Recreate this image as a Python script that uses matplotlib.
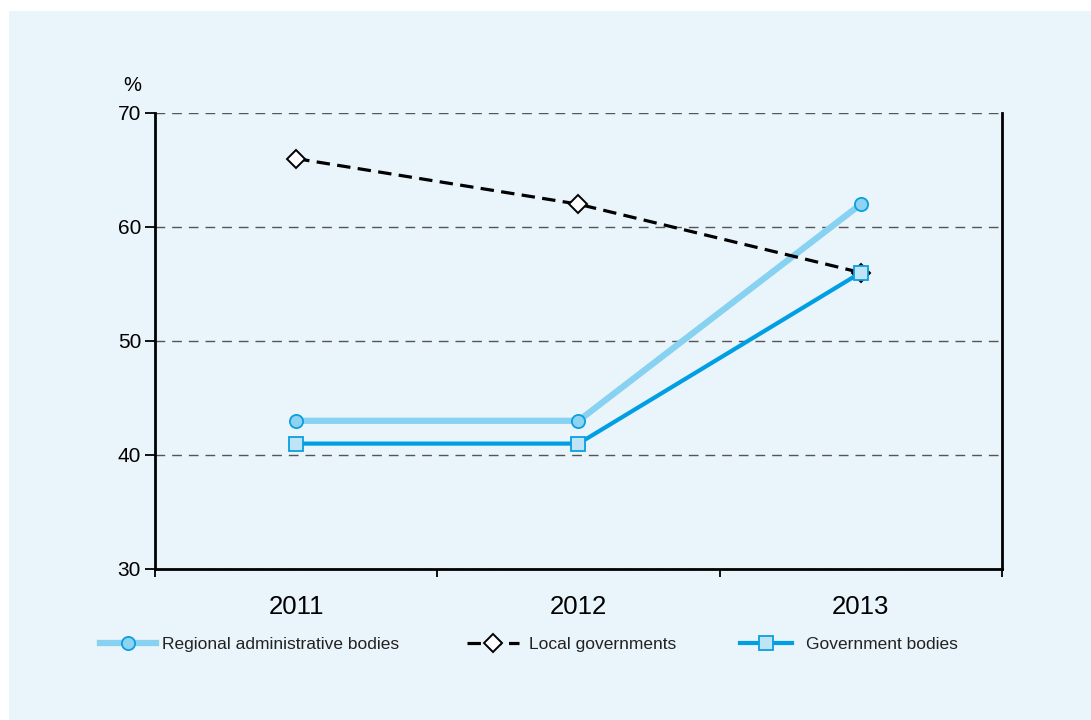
import matplotlib.pyplot as plt
from matplotlib.patches import Rectangle

# Data
years = ["2011", "2012", "2013"]
regional = [43, 43, 62]
local = [66, 62, 56]
government = [41, 41, 56]
labels = ["Regional administrative bodies", "Local governments", "Government bodies"]

bg = "#e9f4fb"
light = "#87d1f1"
dark = "#009fe3"

plt.rcParams["font.family"] = ["Liberation Sans", "DejaVu Sans"]

fig = plt.figure(figsize=(10.91, 7.2), dpi=100)
fig.patch.set_facecolor("white")
fig.patches.append(Rectangle((9 / 1091, 0), 1, 1 - 11 / 720,
                             transform=fig.transFigure, facecolor=bg,
                             edgecolor="none", zorder=-5))

ax = fig.add_axes([155 / 1091, 1 - 569 / 720, 847 / 1091, 456 / 720])
ax.set_facecolor(bg)
ax.set_zorder(2)

x = [0.5, 1.5, 2.5]

l1, = ax.plot(x, regional, color=light, lw=4.5, marker="o", ms=9.5,
              mfc="#8fd3f2", mec="#0a9fe0", mew=1.3, zorder=3)
l2, = ax.plot(x, local, color="black", lw=2.3, ls=(0, (4.2, 2.3)), marker="D", ms=9,
              mfc="white", mec="black", mew=1.4, zorder=3)
l3, = ax.plot(x, government, color=dark, lw=3, marker="s", ms=9.5,
              mfc="#bfe4f6", mec="#0a9fe0", mew=1.3, zorder=4)

ax.set_xlim(0, 3)
ax.set_ylim(30, 70)
ax.set_yticks([30, 40, 50, 60, 70])
ax.set_xticks([0, 1, 2, 3])
ax.set_xticklabels([])
ax.set_xticks(x, minor=True)
ax.set_xticklabels(years, minor=True, fontsize=18.5)
ax.tick_params(axis="x", which="minor", length=0, pad=19)
ax.tick_params(axis="x", which="major", direction="out", length=6, width=1.3)
ax.tick_params(axis="y", direction="out", length=7, width=1.3, labelsize=15, pad=3)

ax.grid(axis="y", color="#555555", lw=1, ls=(0, (7, 5)))
ax.set_axisbelow(True)

ax.spines["top"].set_visible(False)
for s in ["left", "right", "bottom"]:
    ax.spines[s].set_linewidth(2)

ax.text(-0.08, 71.6, "%", fontsize=14.5, ha="center", va="bottom", clip_on=False)

# legend: one entry per box so each sits where the reference puts it
anchors = [100, 467, 740]
hlen = [3.2, 3.0, 3.0]
hpad = [0.4, 0.55, 0.8]
for h, lab, ax0, hl, hp in zip([l1, l2, l3], labels, anchors, hlen, hpad):
    leg = fig.legend([h], [lab], loc="center left",
                     bbox_to_anchor=(ax0 / 1091, 1 - 644 / 720),
                     frameon=False, borderpad=0, borderaxespad=0,
                     handlelength=hl, handletextpad=hp,
                     prop={"size": 12.5, "stretch": "condensed"})
    leg.get_texts()[0].set_color("#222222")

fig.savefig("out.png", dpi=100, facecolor="white")
